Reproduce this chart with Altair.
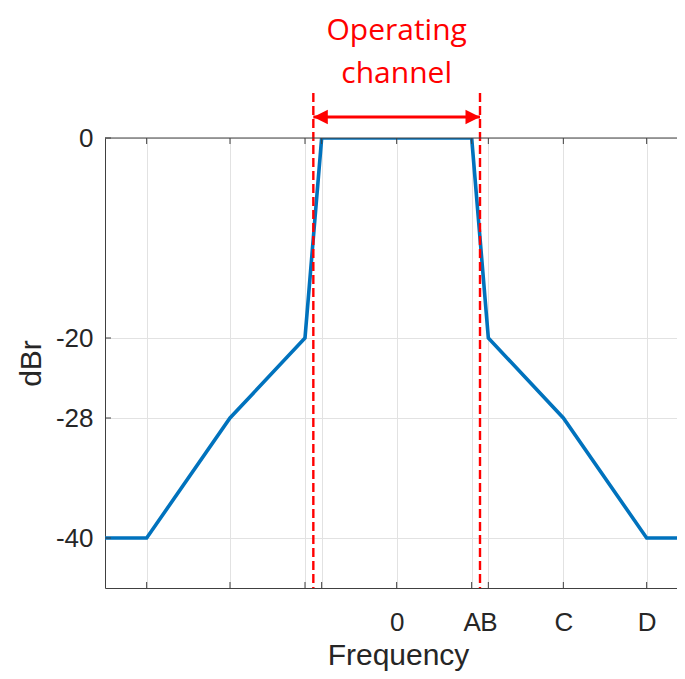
import altair as alt
import pandas as pd

# ---- data ----
freq = [-35, -30, -20, -11, -9, 9, 11, 20, 30, 35]          # MHz offset
dbr = [-40, -40, -28, -20, 0, 0, -20, -28, -40, -40]         # mask level
x_ticks = [-30, -20, -11, -9, 0, 9, 11, 20, 30]
x_tick_labels = {0: "0", 9: "A", 11: "B", 20: "C", 30: "D"}
y_ticks = [-40, -28, -20, 0]
channel_edges = [-10, 10]
dash_top = 4.5
arrow_level = 2.1
annotation_lines = ["Operating", "channel"]
annotation_level = 9.8
annotation_center = 0
x_domain = [-35, 33.64]
y_domain = [-45, 0]

W, H = 572, 450
AXIS_COLOR = "#404040"
TEXT_COLOR = "#262626"
GRID_COLOR = "#e2e2e2"
RED = "#ff0000"
BLUE = "#0072BD"
TICK = 6

label_expr = " : ".join(
    f"datum.value == {k} ? '{v}'" for k, v in x_tick_labels.items()
) + " : ''"

xscale = alt.Scale(domain=x_domain, nice=False, zero=False)
yscale = alt.Scale(domain=y_domain, nice=False, zero=False)

x_axis = alt.Axis(
    values=x_ticks, labelExpr=label_expr, labelOverlap=False, labelFlush=False,
    labelFontSize=26, labelFont="Liberation Sans", labelColor=TEXT_COLOR,
    labelPadding=21, ticks=False, domain=True, domainColor=AXIS_COLOR,
    domainWidth=1, grid=True, gridColor=GRID_COLOR, gridWidth=1,
    title="Frequency", titleFontSize=30, titleFont="Liberation Sans",
    titleFontWeight="normal", titleColor=TEXT_COLOR, titleBaseline="alphabetic",
    titleY=76, titleX=293,
)
y_axis = alt.Axis(
    values=y_ticks, labelExpr="toString(datum.value)", labelFontSize=26,
    labelFont="Liberation Sans",
    labelColor=TEXT_COLOR, labelPadding=12, ticks=False, domain=True,
    domainColor=AXIS_COLOR, domainWidth=1, grid=True, gridColor=GRID_COLOR,
    gridWidth=1, title="dBr", titleFontSize=30, titleFont="Liberation Sans",
    titleFontWeight="normal", titleColor=TEXT_COLOR, titleBaseline="alphabetic",
    titleAngle=270, titleX=-65, titleY=225,
)

df_line = pd.DataFrame({"f": freq, "d": dbr})
line = alt.Chart(df_line).mark_line(color=BLUE, strokeWidth=3.6, clip=True).encode(
    x=alt.X("f:Q", scale=xscale, axis=x_axis),
    y=alt.Y("d:Q", scale=yscale, axis=y_axis),
)

df_xt = pd.DataFrame({"f": x_ticks})
df_yt = pd.DataFrame({"d": y_ticks})
tick_bottom = alt.Chart(df_xt).mark_rule(color=AXIS_COLOR, strokeWidth=1).encode(
    x="f:Q", y=alt.value(H), y2=alt.value(H - TICK))
tick_top = alt.Chart(df_xt).mark_rule(color=AXIS_COLOR, strokeWidth=1).encode(
    x="f:Q", y=alt.value(0), y2=alt.value(TICK))
tick_left = alt.Chart(df_yt).mark_rule(color=AXIS_COLOR, strokeWidth=1).encode(
    y="d:Q", x=alt.value(0), x2=alt.value(TICK))
top_border = alt.Chart(pd.DataFrame({"d": [y_domain[1]]})).mark_rule(
    color=AXIS_COLOR, strokeWidth=1).encode(y="d:Q", x=alt.value(0), x2=alt.value(W))

df_edges = pd.DataFrame({"f": channel_edges, "d": [dash_top] * 2,
                         "d2": [y_domain[0]] * 2})
edges = alt.Chart(df_edges).mark_rule(
    color=RED, strokeWidth=2.4, strokeDash=[9, 4], clip=False).encode(
    x="f:Q", y="d:Q", y2="d2:Q")

df_arrow = pd.DataFrame({"f": [channel_edges[0]], "f2": [channel_edges[1]],
                         "d": [arrow_level]})
arrow_line = alt.Chart(df_arrow).mark_rule(color=RED, strokeWidth=2.8, clip=False).encode(
    x="f:Q", x2="f2:Q", y="d:Q")
df_head_l = pd.DataFrame({"f": [channel_edges[0]], "d": [arrow_level]})
df_head_r = pd.DataFrame({"f": [channel_edges[1]], "d": [arrow_level]})
head_l = alt.Chart(df_head_l).mark_point(
    shape="M0,0 L2,-1 L2,1 Z", filled=True, size=210, color=RED, opacity=1,
    strokeWidth=0, clip=False).encode(x="f:Q", y="d:Q")
head_r = alt.Chart(df_head_r).mark_point(
    shape="M0,0 L-2,-1 L-2,1 Z", filled=True, size=210, color=RED, opacity=1,
    strokeWidth=0, clip=False).encode(x="f:Q", y="d:Q")

df_text = pd.DataFrame({"f": [annotation_center], "d": [annotation_level]})
text = alt.Chart(df_text).mark_text(
    text=annotation_lines, font="Open Sans", fontSize=30, lineHeight=43,
    color=RED, baseline="alphabetic", align="center", clip=False).encode(
    x="f:Q", y="d:Q")

chart = alt.layer(
    line, edges, arrow_line, head_l, head_r, text,
    tick_bottom, tick_top, tick_left, top_border,
).properties(
    width=W, height=H,
    padding={"left": 97, "top": 130, "right": 0, "bottom": 83},
    autosize=alt.AutoSizeParams(type="none"),
).configure_view(stroke=None)

chart.save("out.html", embed_options={"renderer": "svg", "actions": False})
